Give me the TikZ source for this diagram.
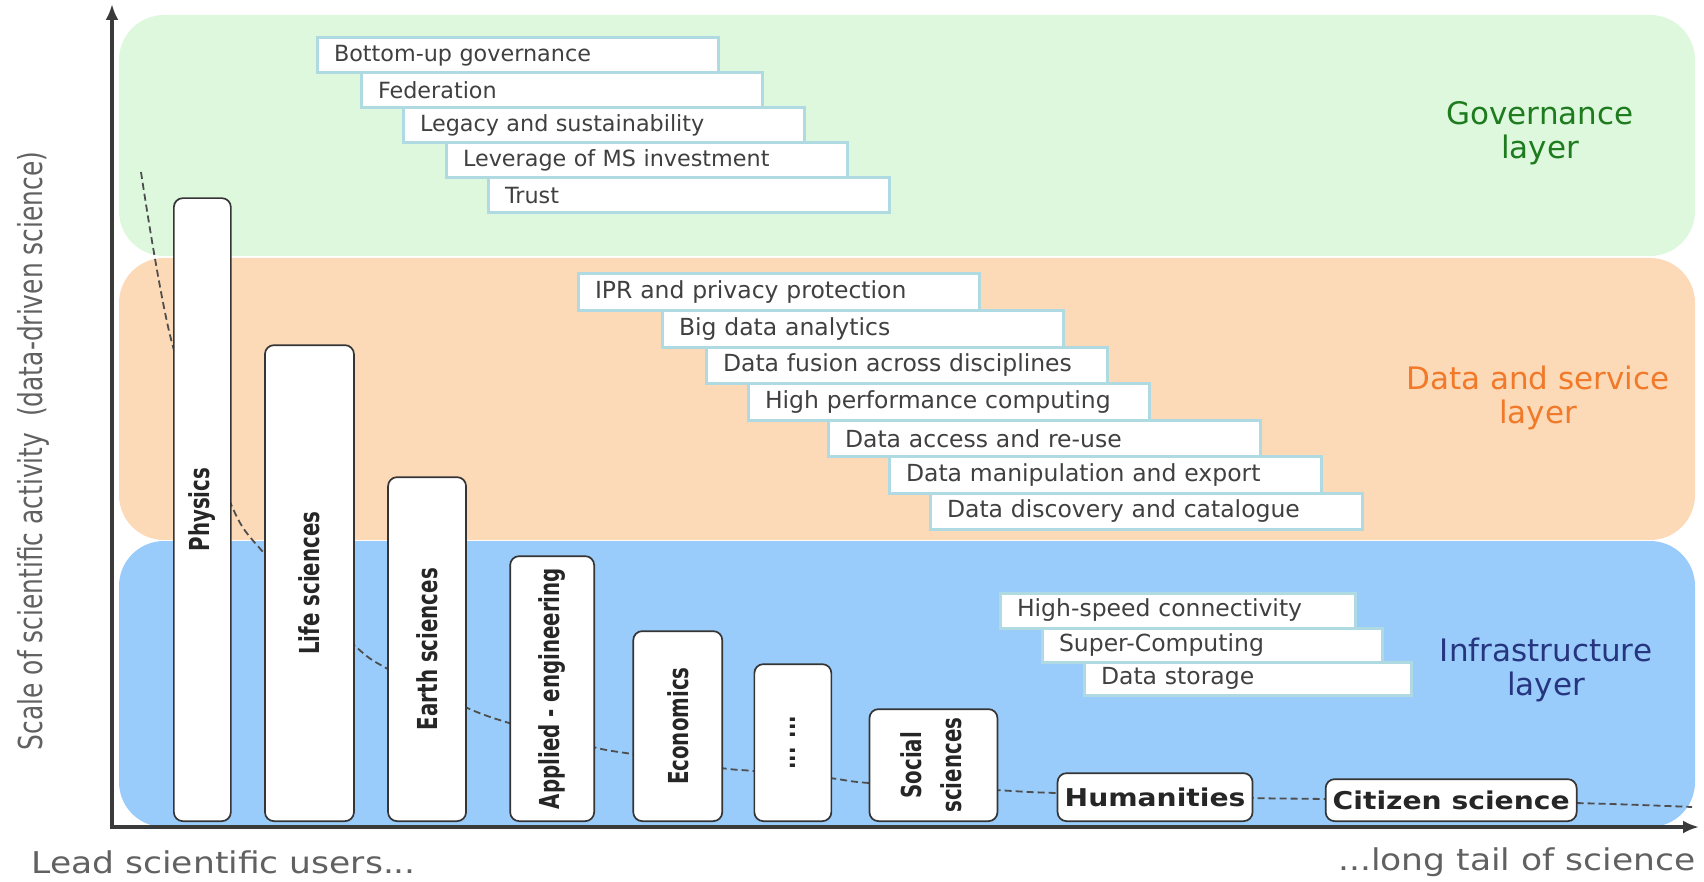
\documentclass[tikz,border=0pt]{standalone}
\usepackage{fontspec}
\setmainfont{DejaVu Sans}
\newfontfamily\tallfont[FakeStretch=0.72]{DejaVu Sans}
\newfontfamily\axisfont[FakeStretch=0.755]{DejaVu Sans}
\newfontfamily\widefont[FakeStretch=1.15]{DejaVu Sans}
\usetikzlibrary{positioning,arrows.meta}
\usepackage{xcolor}

\definecolor{govfill}{HTML}{DEF8DE}
\definecolor{datafill}{HTML}{FDDAB7}
\definecolor{infrafill}{HTML}{99CCFA}
\definecolor{boxline}{HTML}{AFDAE1}
\definecolor{boxtext}{HTML}{404040}
\definecolor{bardraw}{HTML}{353535}
\definecolor{bartext}{HTML}{262626}
\definecolor{govtext}{HTML}{1E7B1E}
\definecolor{datatext}{HTML}{F07A2A}
\definecolor{infratext}{HTML}{26357F}
\definecolor{axisgray}{HTML}{3A3A3A}

\begin{document}
\begin{tikzpicture}[x=1pt, y=-1pt,
    layer/.style={rounded corners=45pt},
    itembox/.style={draw=boxline, line width=3pt, fill=white, text=boxtext, outer sep=0pt,
      font=\fontsize{22.3}{26}\selectfont, inner xsep=17pt, inner ysep=0pt,
      minimum height=35pt, text width=367pt, align=left},
    srvbox/.style={itembox, font=\fontsize{23.5}{27}\selectfont, minimum height=36.5pt},
    widebox/.style={srvbox, text width=398pt},
    bar/.style={draw=bardraw, line width=1.7pt, fill=white, rounded corners=9pt, inner sep=0pt,
      text=bartext, font=\tallfont\bfseries\fontsize{27.5}{40}\selectfont},
    flatbar/.style={bar, font=\widefont\bfseries\fontsize{24.5}{28}\selectfont},
    layerlabel/.style={align=center, font=\fontsize{31}{34}\selectfont},
    axislabel/.style={text=axisgray!80},
    trend/.style={dashed, dash pattern=on 7pt off 4pt, line width=1.8pt, draw=axisgray!90},
    >={Latex[length=16pt,width=13pt]}]
\useasboundingbox (0,0) rectangle (1704,882);

% layers
\fill[govfill, layer] (119,15) rectangle (1695,256);
\fill[datafill, layer] (119,258) rectangle (1695,540);
\fill[infrafill, layer] (119,541) rectangle (1695,827);

% trend line
\draw[trend] plot[smooth, tension=0.5] coordinates {(141,172) (172,343) (230,502) (263,552)
  (352,643) (386,668) (465,707) (509,723) (593,747) (632,754) (721,768) (754,771)
  (829,778) (869,783) (995,790) (1056,793) (1251,798) (1324,799) (1574,803) (1692,807)};

% disciplines
\node[bar, minimum width=57pt, minimum height=623pt, anchor=south west] (physics) at (173,822) {\rotatebox{90}{Physics}};
\node[bar, minimum width=89pt, minimum height=476pt, right=32.4pt of physics.south east, anchor=south west] (life) {\rotatebox{90}{Life sciences}};
\node[bar, minimum width=78pt, minimum height=344pt, right=32.4pt of life.south east, anchor=south west] (earth) {\rotatebox{90}{Earth sciences}};
\node[bar, minimum width=84pt, minimum height=265pt, right=42.4pt of earth.south east, anchor=south west] (applied) {\rotatebox{90}{Applied - engineering}};
\node[bar, minimum width=89pt, minimum height=190pt, right=37.4pt of applied.south east, anchor=south west] (economics) {\rotatebox{90}{Economics}};
\node[bar, minimum width=77pt, minimum height=157pt, right=30.4pt of economics.south east, anchor=south west] (others) {\rotatebox{90}{... ...}};
\node[bar, minimum width=128pt, minimum height=112pt, right=36.4pt of others.south east, anchor=south west] (social) {\rotatebox{90}{\begin{tabular}{@{}c@{}}Social\\sciences\end{tabular}}};
\node[flatbar, minimum width=195pt, minimum height=48pt, right=58.4pt of social.south east, anchor=south west] (humanities) {Humanities};
\node[flatbar, minimum width=251pt, minimum height=42pt, right=71.4pt of humanities.south east, anchor=south west] (citizen) {Citizen science};

% governance layer
\node[itembox, anchor=north west] (bottomup) at (317,38) {Bottom-up governance};
\node[itembox, below right=0pt and 44pt of bottomup.south west] (federation) {Federation};
\node[itembox, below right=0pt and 42pt of federation.south west] (legacy) {Legacy and sustainability};
\node[itembox, below right=0pt and 43pt of legacy.south west] (leverage) {Leverage of MS investment};
\node[itembox, below right=0pt and 42pt of leverage.south west] (trust) {Trust};

% data and service layer
\node[srvbox, anchor=north west] (ipr) at (578,274) {IPR and privacy protection};
\node[srvbox, below right=0pt and 84pt of ipr.south west] (bigdata) {Big data analytics};
\node[srvbox, below right=0pt and 44pt of bigdata.south west] (fusion) {Data fusion across disciplines};
\node[srvbox, below right=0pt and 42pt of fusion.south west] (hpc) {High performance computing};
\node[widebox, below right=0pt and 80pt of hpc.south west] (access) {Data access and re-use};
\node[widebox, below right=0pt and 61pt of access.south west] (manip) {Data manipulation and export};
\node[widebox, below right=0pt and 41pt of manip.south west] (discovery) {Data discovery and catalogue};

% infrastructure layer
\node[srvbox, text width=321pt, minimum height=35pt, anchor=north west] (connect) at (1000,593) {High-speed connectivity};
\node[srvbox, text width=306pt, minimum height=34pt, below right=0pt and 42pt of connect.south west] (supercomp) {Super-Computing};
\node[srvbox, text width=293pt, minimum height=33pt, below right=0pt and 42pt of supercomp.south west] (storage) {Data storage};

% layer names
\node[layerlabel, text=govtext] (govname) at (1540,133) {Governance\\layer};
\node[layerlabel, text=datatext] (dataname) at (1538,398) {Data and service\\layer};
\node[layerlabel, text=infratext] (infraname) at (1546,670) {Infrastructure\\layer};

% axes
\coordinate (ytip) at (112,4);
\coordinate (xtip) at (1699,827);
\draw[<->, line width=3.5pt, draw=axisgray] (ytip) |- (xtip);

\node[axislabel, rotate=90, font=\axisfont\fontsize{33}{36}\selectfont] (scalelabel) at (33,451) {Scale of scientific activity\ \ (data-driven science)};
\node[axislabel, anchor=west, font=\widefont\fontsize{30}{34}\selectfont] (leadlabel) at (28,862) {Lead scientific users...};
\node[axislabel, anchor=east, font=\widefont\fontsize{30}{34}\selectfont] (taillabel) at (1699,862) {...long tail of science};
\end{tikzpicture}
\end{document}
